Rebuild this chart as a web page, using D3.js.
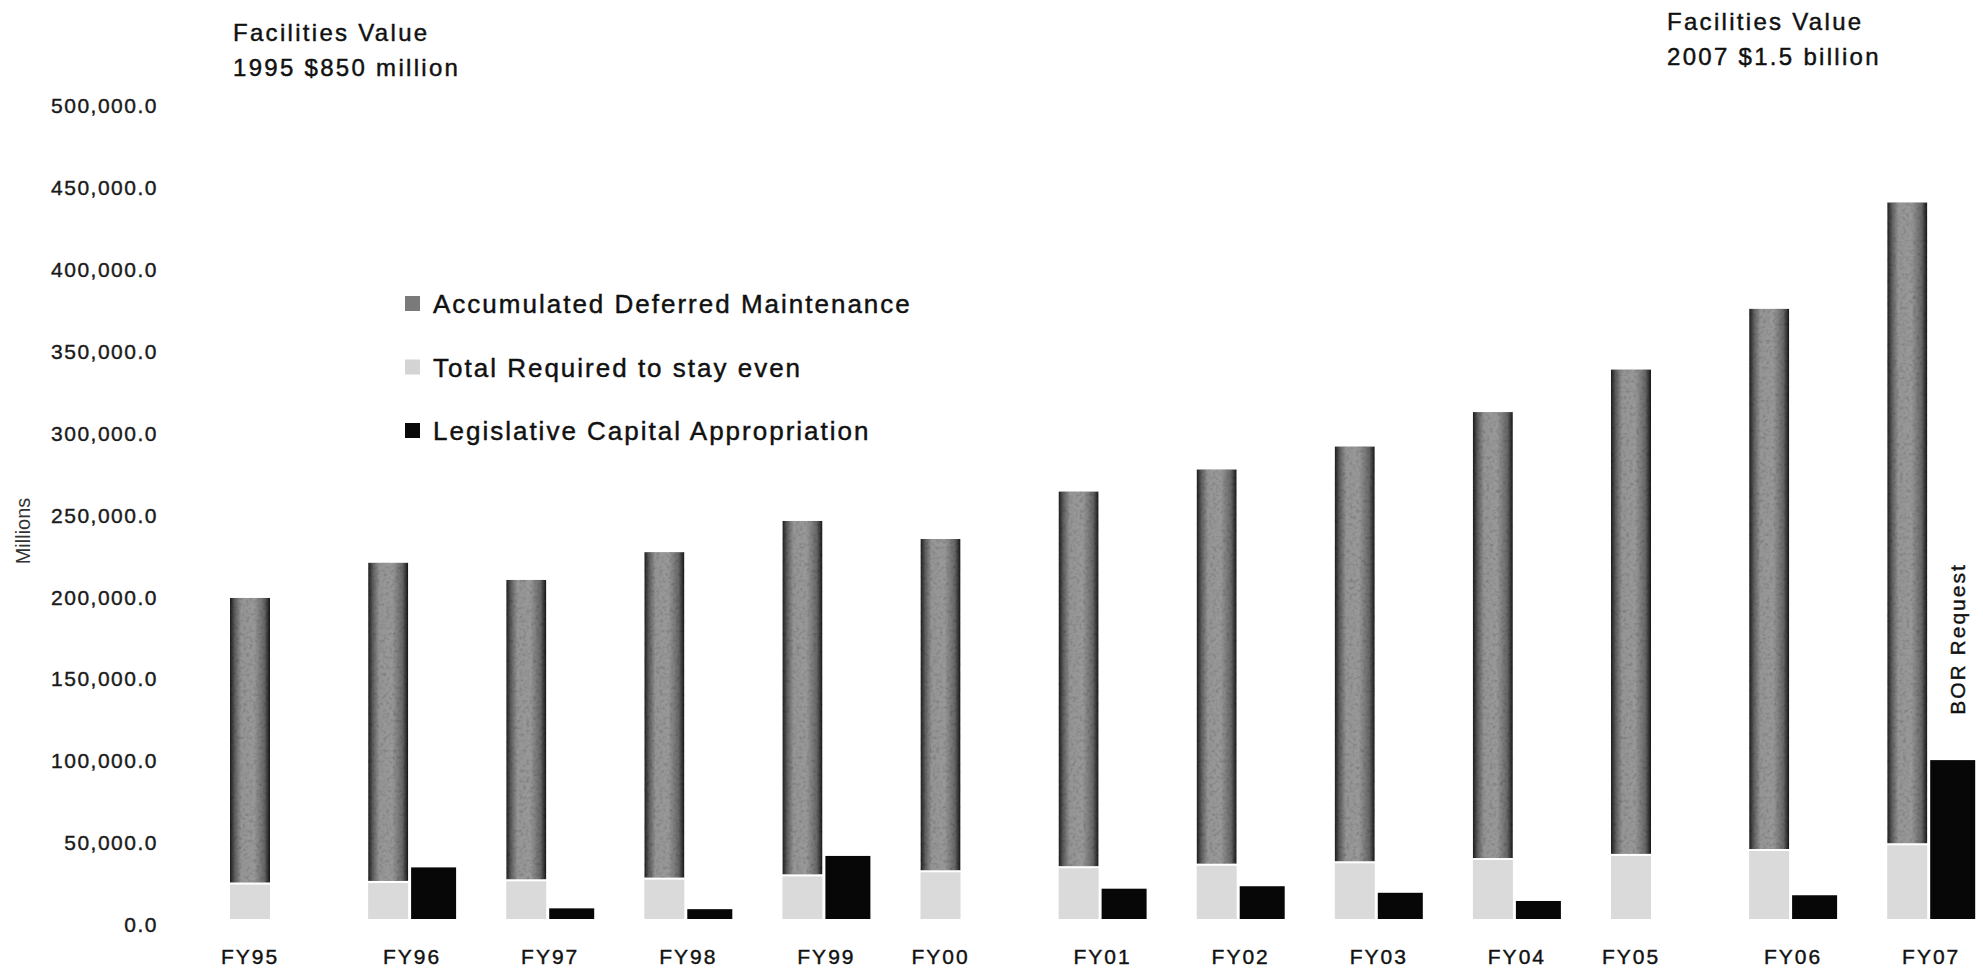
<!doctype html>
<html>
<head>
  <meta charset="utf-8">
  <title>Deferred Maintenance</title>
  <script src="https://d3js.org/d3.v7.min.js"></script>
  <style>
    body { margin:0; background:#fff; }
    svg { display:block; font-family:"Liberation Sans", Arial, sans-serif; }
    .tick text { font-size:21px; fill:#1a1a1a; letter-spacing:1.5px; stroke:#1a1a1a; stroke-width:0.4px; }
    .note { font-size:24px; fill:#111; letter-spacing:2.3px; stroke:#111; stroke-width:0.45px; }
    .leg  { font-size:26px; fill:#111; letter-spacing:2px; stroke:#111; stroke-width:0.45px; }
    .xlab { font-size:21px; fill:#111; letter-spacing:2px; stroke:#111; stroke-width:0.4px; }
    .ylab { font-size:20px; fill:#333; }
  </style>
</head>
<body>
<svg id="chart" width="1983" height="974"></svg>
<script>
  const years = ["FY95","FY96","FY97","FY98","FY99","FY00","FY01","FY02","FY03","FY04","FY05","FY06","FY07"];
  // light bottom part of each column
  const stayEven = [21000,22000,23000,24000,26000,28500,31000,32500,34000,36000,38500,41500,45000];
  // dark upper part, stacked on top
  const deferred = [175000,195500,184000,200000,217000,203500,230000,242000,254500,273500,297000,331000,392500];
  // black bars beside the columns (0 = none drawn)
  const appropriation = [0,31500,6500,6000,38500,0,18500,20000,16000,11000,0,14500,97000];
  const yTicks = [0,50000,100000,150000,200000,250000,300000,350000,400000,450000,500000];
  const legendLabels = ["Accumulated Deferred Maintenance","Total Required to stay even","Legislative Capital Appropriation"];

  const svg = d3.select("#chart");

  const defs = svg.append("defs");
  const grad = defs.append("linearGradient").attr("id","darkbar");
  [[0,"#1c1c1c"],[0.12,"#5e5e5e"],[0.28,"#959595"],[0.6,"#999"],[0.86,"#666"],[1,"#161616"]]
    .forEach(s => grad.append("stop").attr("offset",s[0]).attr("stop-color",s[1]));

  // mottled scan look on the dark columns
  const grain = defs.append("filter").attr("id","grain");
  grain.append("feTurbulence").attr("type","fractalNoise").attr("baseFrequency","0.3").attr("numOctaves",2).attr("result","n");
  grain.append("feColorMatrix").attr("in","n").attr("type","matrix")
    .attr("values","0.5 0.5 0 0 0.45  0.5 0.5 0 0 0.45  0.5 0.5 0 0 0.45  0 0 0 0 1").attr("result","g");
  grain.append("feComposite").attr("in","g").attr("in2","SourceGraphic").attr("operator","in").attr("result","gm");
  grain.append("feBlend").attr("in","SourceGraphic").attr("in2","gm").attr("mode","multiply");

  const x = d3.scaleBand().domain(years).range([230, 230 + 13*138.1]).padding(0);
  const y = d3.scaleLinear().domain([0,500000]).range([919,100]);

  const barW = 40, blackOff = 43, blackW = 45;

  // y axis labels only
  const yAxis = svg.append("g")
    .attr("transform","translate(170,0)")
    .call(d3.axisLeft(y).tickValues(yTicks).tickSize(0).tickPadding(12).tickFormat(d3.format(",.1f")));
  yAxis.select(".domain").remove();
  yAxis.attr("font-size",null).attr("font-family",null);
  yAxis.selectAll(".tick text").attr("dy","0.6em");

  svg.append("text")
    .attr("class","ylab")
    .attr("transform","translate(30,531) rotate(-90)")
    .attr("text-anchor","middle")
    .text("Millions");

  const groups = svg.append("g").selectAll("g")
    .data(years)
    .join("g");

  groups.append("rect")
    .attr("x", d => x(d))
    .attr("width", barW)
    .attr("y", (d,i) => y(stayEven[i]))
    .attr("height", (d,i) => y(0) - y(stayEven[i]))
    .attr("fill","#dadada");

  groups.append("rect")
    .attr("x", d => x(d))
    .attr("width", barW)
    .attr("y", (d,i) => y(stayEven[i] + deferred[i]))
    .attr("height", (d,i) => y(stayEven[i]) - y(stayEven[i] + deferred[i]) - 2)
    .attr("fill","url(#darkbar)")
    .attr("filter","url(#grain)");

  groups.filter((d,i) => appropriation[i] > 0)
    .append("rect")
    .attr("x", d => x(d) + blackOff)
    .attr("width", blackW)
    .attr("y", d => y(appropriation[years.indexOf(d)]))
    .attr("height", d => y(0) - y(appropriation[years.indexOf(d)]))
    .attr("fill","#070707");

  groups.append("text")
    .attr("class","xlab")
    .attr("text-anchor","middle")
    .attr("x", (d,i) => appropriation[i] > 0 ? x(d) + (blackOff + blackW)/2 : x(d) + barW/2)
    .attr("y", 964)
    .text(d => d);

  // notes
  const noteL = svg.append("text").attr("class","note").attr("x",233).attr("y",41);
  noteL.append("tspan").attr("x",233).text("Facilities Value");
  noteL.append("tspan").attr("x",233).attr("dy",35).text("1995 $850 million");

  const noteR = svg.append("text").attr("class","note").attr("x",1667).attr("y",30);
  noteR.append("tspan").attr("x",1667).text("Facilities Value");
  noteR.append("tspan").attr("x",1667).attr("dy",35).text("2007 $1.5 billion");

  svg.append("text")
    .attr("class","xlab")
    .attr("transform","translate(1965,639) rotate(-90)")
    .attr("text-anchor","middle")
    .text("BOR Request");

  // legend
  const legColors = ["#7a7a7a","#d4d4d4","#080808"];
  const leg = svg.append("g").selectAll("g")
    .data(legendLabels)
    .join("g")
    .attr("transform",(d,i) => `translate(405,${304 + i*63.5})`);
  leg.append("rect")
    .attr("x",0).attr("y",-8).attr("width",15).attr("height",15)
    .attr("fill",(d,i) => legColors[i]);
  leg.append("text")
    .attr("class","leg")
    .attr("x",28).attr("dy","0.36em")
    .text(d => d);
</script>
</body>
</html>
